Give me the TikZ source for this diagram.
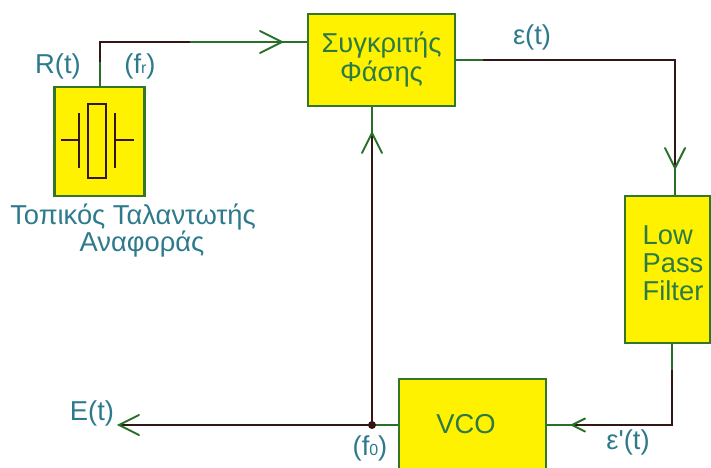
\documentclass[tikz,border=0pt]{standalone}
\usepackage{fontspec}
\setmainfont{Liberation Sans}
\usetikzlibrary{calc}
\definecolor{cFill}{RGB}{255,242,0}
\definecolor{cEdge}{RGB}{50,118,40}
\definecolor{cGreen}{RGB}{40,112,40}
\definecolor{cDark}{RGB}{52,22,22}
\definecolor{cTeal}{RGB}{45,122,140}
\definecolor{cBoxText}{RGB}{45,122,70}
\newcommand\lowsmall[1]{\raisebox{-0.5pt}{\fontsize{12}{12}\selectfont #1}}
\begin{document}
\begin{tikzpicture}[x=0.75pt,y=-0.75pt,
  box/.style={draw=cEdge, fill=cFill, line width=1.9pt, inner sep=0pt,
    font=\fontsize{20.5}{21.75}\selectfont, text=cBoxText, align=center},
  boxtxt/.style={inner sep=0pt, font=\fontsize{20.5}{21}\selectfont, text=cBoxText},
  lbl/.style={inner sep=0pt, font=\fontsize{20.5}{22}\selectfont, text=cTeal},
  gl/.style={draw=cGreen, line width=1.5pt},
  dl/.style={draw=cDark, line width=1.5pt},
  xtal/.style={draw=cDark, line width=1.6pt},
  chev/.pic={\draw[cGreen, line width=1.5pt, line cap=round, line join=miter] (-20,-10) -- (0,0) -- (-20,10);}
]
\useasboundingbox (0,0) rectangle (711,468);

% boxes
\node[box, minimum width=67.5pt, minimum height=81.75pt] (osc) at (99.5,141.5) {};
\node[box, minimum width=110.25pt, minimum height=69pt] (cmp) at (381.5,60) {Συγκριτής\\Φάσης};
\node[box, minimum width=63.75pt, minimum height=110.25pt] (lpf) at (667.5,269.5) {};
\node[boxtxt, align=left] (lpft) at (673,263) {Low\\Pass\\Filter};
\node[box, minimum width=110.25pt, minimum height=69pt] (vco) at (472.5,425) {};
\node[boxtxt] (vcot) at (466,424) {VCO};

% crystal symbol
\draw[xtal] (88,104) rectangle (106,178);
\draw[xtal] (79,113) -- (79,168);
\draw[xtal] (115,113) -- (115,168);
\draw[xtal] (61,140) -- (79,140);
\draw[xtal] (115,140) -- (134,140);

% coordinates
\coordinate (cin) at (cmp.west |- 0,42);
\coordinate (b1) at (99.5,62);
\coordinate (b2) at (190,42);
\coordinate (a1) at (282,42);
\coordinate (b3) at (483,60);
\coordinate (a2) at (675,168);
\coordinate (b4) at (672,370);
\coordinate (a4) at (572,425);
\coordinate (j) at (372,425);
\coordinate (eout) at (119,425);
\coordinate (a3) at (372,133);

% top connector
\draw[gl] (osc.north) -- (b1);
\draw[dl] (b1) |- (b2);
\draw[gl] (b2) -- (cin);
\pic[scale=1.1] at (a1) {chev};

% comparator -> LPF
\draw[gl] (cmp.east) -- (b3);
\draw[dl] (b3) -| (a2);
\draw[gl] (a2) -- (a2 |- lpf.north);
\pic[rotate=-90] at (a2) {chev};

% LPF -> VCO
\draw[gl] (b4 |- lpf.south) -- (b4);
\draw[dl] (b4) |- (a4);
\draw[gl] (a4) -- (vco.east);
\pic[rotate=180, scale=0.65] at (a4) {chev};

% VCO -> output and feedback
\draw[gl] (vco.west) -- (j);
\draw[dl] (j) -- (eout);
\draw[dl] (j) -- (a3);
\draw[gl] (a3) -- (a3 |- cmp.south);
\pic[rotate=90] at (a3) {chev};
\pic[rotate=180] at (eout) {chev};
\fill[cDark] (j) circle (3pt);

% labels
\node[lbl] (lr) at (58,66) {R(t)};
\node[lbl] (lfr) at (140,66) {(f\lowsmall{r})};
\node[lbl] (leps) at (532,37) {ε(t)};
\node[lbl] (losc1) at (133,217) {Τοπικός Ταλαντωτής};
\node[lbl] (losc2) at (142,244) {Αναφοράς};
\node[lbl] (le) at (92,413) {E(t)};
\node[lbl] (lf0) at (370,448) {(f\lowsmall{0})};
\node[lbl] (leps2) at (628,442) {ε\textquotesingle(t)};
\end{tikzpicture}
\end{document}
